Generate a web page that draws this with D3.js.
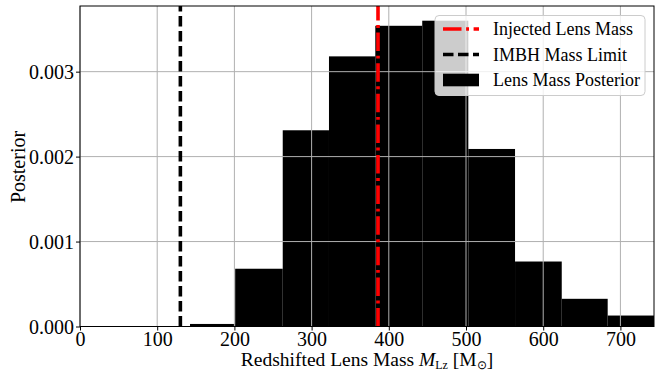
<!DOCTYPE html>
<html>
<head>
<meta charset="utf-8">
<script src="https://cdn.jsdelivr.net/npm/d3@7"></script>
<style>
  body { margin: 0; background: #fff; }
</style>
</head>
<body>
<svg width="657" height="370"></svg>
<script>
// histogram bin edges (redshifted lens mass, Msun) and density per bin
const binEdges = [142.5, 201, 262.6, 322.5, 382.5, 443.3, 503, 563.5, 624, 683.5, 743.5];
const density = [0.00003, 0.00068, 0.00231, 0.00318, 0.00354, 0.00360, 0.00209, 0.000765, 0.000326, 0.000129];
const injectedMass = 386;
const imbhLimit = 130;
const xTicks = [0, 100, 200, 300, 400, 500, 600, 700];
const yTicks = [0, 0.001, 0.002, 0.003];

const serif = '"Liberation Serif", "Times New Roman", serif';
const margin = { top: 6, right: 3, bottom: 43.5, left: 80 };
const width = 657, height = 370;

const svg = d3.select("svg");

const x = d3.scaleLinear()
    .domain([0, 743.5])
    .range([margin.left, width - margin.right]);
const y = d3.scaleLinear()
    .domain([0, 0.003773])
    .range([height - margin.bottom, margin.top]);

const bins = density.map((d, i) => ({ x0: binEdges[i], x1: binEdges[i + 1], v: d }));

// bars
svg.append("g").selectAll("rect")
    .data(bins)
    .enter()
    .append("rect")
    .attr("x", b => x(b.x0))
    .attr("width", b => x(b.x1) - x(b.x0))
    .attr("y", b => y(b.v))
    .attr("height", b => y(0) - y(b.v))
    .attr("fill", "#000");

// grid (drawn over the bars, under the lines)
const grid = svg.append("g").attr("stroke", "#b0b0b0").attr("stroke-width", 1);
grid.selectAll(".gx").data(xTicks).enter().append("line")
    .attr("x1", d => x(d)).attr("x2", d => x(d))
    .attr("y1", y.range()[0]).attr("y2", y.range()[1]);
grid.selectAll(".gy").data(yTicks).enter().append("line")
    .attr("y1", d => y(d)).attr("y2", d => y(d))
    .attr("x1", x.range()[0]).attr("x2", x.range()[1]);

// vertical reference lines
svg.append("line")
    .attr("x1", x(imbhLimit)).attr("x2", x(imbhLimit))
    .attr("y1", y.range()[0]).attr("y2", y.range()[1])
    .attr("stroke", "#000").attr("stroke-width", 3.6)
    .attr("stroke-dasharray", "10.5,4.5");
svg.append("line")
    .attr("x1", x(injectedMass)).attr("x2", x(injectedMass))
    .attr("y1", y.range()[0]).attr("y2", y.range()[1])
    .attr("stroke", "#ff0000").attr("stroke-width", 3.6)
    .attr("stroke-dasharray", "18.5,4.6,2.9,4.6");

// axes
const xAxis = d3.axisBottom(x).tickValues(xTicks).tickSize(4).tickPadding(2).tickFormat(d3.format("d"));
const yAxis = d3.axisLeft(y).tickValues(yTicks).tickSize(4).tickPadding(2).tickFormat(d3.format(".3f"));

const gx = svg.append("g")
    .attr("transform", `translate(0,${y(0)})`)
    .call(xAxis);
const gy = svg.append("g")
    .attr("transform", `translate(${x(0)},0)`)
    .call(yAxis);
[gx, gy].forEach(g => {
  g.attr("font-family", null).attr("font-size", null);
  g.select(".domain").remove();
  g.selectAll("text").style("font-family", serif).style("font-size", "20px");
  g.selectAll(".tick line").attr("stroke", "#000");
});
gx.selectAll("text").attr("dy", "0.68em");
gy.selectAll("text").attr("dy", "0.33em");

// spines
svg.append("rect")
    .attr("x", x.range()[0]).attr("y", y.range()[1])
    .attr("width", x.range()[1] - x.range()[0])
    .attr("height", y.range()[0] - y.range()[1])
    .attr("fill", "none").attr("stroke", "#000").attr("stroke-width", 1);

// axis labels
const xl = svg.append("text")
    .attr("x", (x.range()[0] + x.range()[1]) / 2)
    .attr("y", 366)
    .attr("text-anchor", "middle")
    .style("font-family", serif)
    .style("font-size", "19.5px");
xl.append("tspan").text("Redshifted Lens Mass ");
xl.append("tspan").style("font-style", "italic").text("M");
xl.append("tspan").attr("dy", 2.5).style("font-size", "12px").text("Lz");
xl.append("tspan").attr("dy", -2.5).text(" [M");
xl.append("tspan").attr("dy", 2.5).style("font-size", "12px").text("⊙");
xl.append("tspan").attr("dy", -2.5).text("]");

svg.append("text")
    .attr("transform", `translate(25,167) rotate(-90)`)
    .attr("text-anchor", "middle")
    .style("font-family", serif)
    .style("font-size", "20px")
    .text("Posterior");

// legend
const lg = svg.append("g");
lg.append("rect")
    .attr("x", 435).attr("y", 15.5).attr("width", 210).attr("height", 80)
    .attr("rx", 4)
    .attr("fill", "#fff").attr("fill-opacity", 0.8)
    .attr("stroke", "#cccccc").attr("stroke-width", 1);
const entries = [
  { label: "Injected Lens Mass", type: "line", color: "#ff0000", dash: "18.5,4.6,2.9,4.6" },
  { label: "IMBH Mass Limit", type: "line", color: "#000", dash: "10.5,4.5" },
  { label: "Lens Mass Posterior", type: "rect", color: "#000" }
];
entries.forEach((e, i) => {
  const cy = 29 + i * 25.5;
  if (e.type === "line") {
    lg.append("line")
      .attr("x1", 443).attr("x2", 479).attr("y1", cy).attr("y2", cy)
      .attr("stroke", e.color).attr("stroke-width", 3.6)
      .attr("stroke-dasharray", e.dash);
  } else {
    lg.append("rect")
      .attr("x", 443).attr("y", cy - 6.3).attr("width", 36).attr("height", 12.6)
      .attr("fill", e.color);
  }
  lg.append("text")
    .attr("x", 493).attr("y", cy + 6)
    .style("font-family", serif)
    .style("font-size", "18px")
    .text(e.label);
});
</script>
</body>
</html>
